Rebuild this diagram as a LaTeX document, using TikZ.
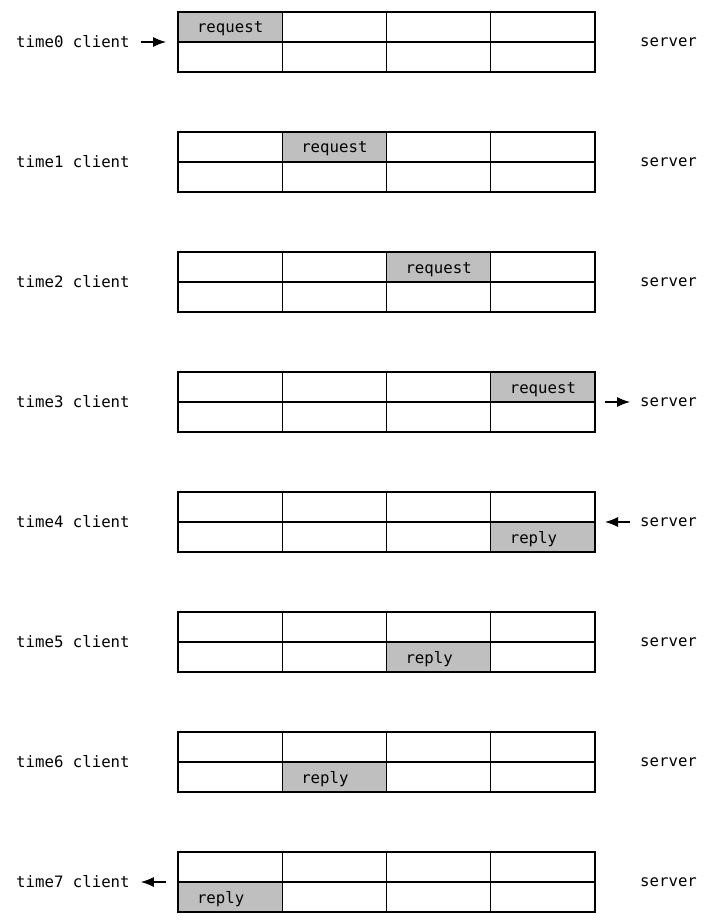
\documentclass[tikz,border=0pt]{standalone}
\usepackage{fontspec}
\setmonofont{DejaVu Sans Mono}
\usetikzlibrary{arrows.meta,positioning}

\begin{document}
\begin{tikzpicture}[x=1pt, y=-1pt,
  cell/.style={draw, line width=1.2pt, minimum width=104.25pt, minimum height=30pt,
               inner sep=0pt, outer sep=0pt, anchor=north west,
               text height=14pt, text depth=2pt,
               font=\ttfamily\fontsize{15.7}{18}\selectfont},
  msg/.style={cell, fill=black!25},
  lbl/.style={inner sep=0pt, anchor=west, font=\ttfamily\fontsize{15.7}{18}\selectfont},
  arr/.style={-{Latex[length=13pt,width=10pt]}, line width=1.2pt}
]
\useasboundingbox (0,0) rectangle (712,923);
% one buffer of 2 x 4 slots per time step
\foreach \r in {0,...,7} {
  \foreach \i in {0,1} {
    \foreach \j in {0,...,3} {
      \node[cell] (c-\r-\i-\j) at (178+104.25*\j, 12+120*\r+30*\i) {};
    }
  }
  \node[lbl] (cl\r) at (16, 42+120*\r) {time\r\ client};
  \node[lbl] (sv\r) at (640, 42+120*\r) {server};
  \coordinate (gl\r) at (178, 42+120*\r);
  \coordinate (gr\r) at (595, 42+120*\r);
}
% request travels right, reply travels back
\foreach \r in {0,...,3}
  \node[msg] (rq\r) at (c-\r-0-\r.north west) {request};
\foreach \r/\j in {4/3,5/2,6/1,7/0}
  \node[msg] (rp\r) at (c-\r-1-\j.north west) {reply\phantom{st}};
\draw[arr, shorten <=11pt, shorten >=12pt] (cl0.east) -- (gl0);
\draw[arr, shorten <=10pt, shorten >=10pt] (gr3) -- (sv3.west);
\draw[arr, shorten <=10pt, shorten >=10pt] (sv4.west) -- (gr4);
\draw[arr, shorten <=12pt, shorten >=11pt] (gl7) -- (cl7.east);
\end{tikzpicture}
\end{document}
